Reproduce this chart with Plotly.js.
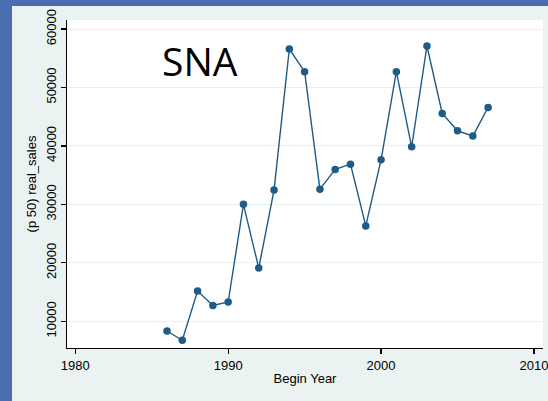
<!DOCTYPE html>
<html>
<head>
<meta charset="utf-8">
<script src="https://cdn.plot.ly/plotly-3.0.1.min.js"></script>
<style>
  html, body { margin: 0; padding: 0; background: #4a6db0; width: 548px; height: 401px; overflow: hidden; }
  #chart { position: absolute; left: 12px; top: 6px; width: 536px; height: 395px; }
</style>
</head>
<body>
<div id="chart"></div>
<script>
const years = [1986, 1987, 1988, 1989, 1990, 1991, 1992, 1993, 1994, 1995, 1996, 1997, 1998, 1999, 2000, 2001, 2002, 2003, 2004, 2005, 2006, 2007];
const realSales = [8340, 6750, 15190, 12700, 13300, 30000, 19100, 32450, 56580, 52690, 32600, 35980, 36880, 26320, 37620, 52690, 39850, 57090, 45560, 42590, 41680, 46580];
const xTicks = [1980, 1990, 2000, 2010];
const yTicks = [10000, 20000, 30000, 40000, 50000, 60000];
const labelText = 'SNA';

const trace = {
  x: years,
  y: realSales,
  type: 'scatter',
  mode: 'lines+markers',
  line: { color: '#1f5b87', width: 1.4 },
  marker: { color: '#1f5b87', size: 7.5 },
  hoverinfo: 'skip'
};

const layout = {
  width: 536,
  height: 395,
  margin: { l: 55, r: 5, t: 14, b: 53 },
  paper_bgcolor: '#eaf3f1',
  plot_bgcolor: '#ffffff',
  font: { family: 'Liberation Sans, Arial, sans-serif', size: 13, color: '#000000' },
  showlegend: false,
  xaxis: {
    range: [1979.46, 2010.59],
    tickvals: xTicks,
    ticktext: xTicks.map(String),
    ticklabeloverflow: 'allow',
    showgrid: false,
    zeroline: false,
    showline: true,
    linecolor: '#000000',
    linewidth: 1.3,
    ticks: 'outside',
    ticklen: 5,
    tickwidth: 1.2,
    tickcolor: '#000000',
    tickfont: { size: 13 },
    title: { text: 'Begin Year', font: { size: 13 }, standoff: 2 }
  },
  yaxis: {
    range: [5430, 61540],
    tickvals: yTicks,
    ticktext: yTicks.map(String),
    tickangle: -90,
    showgrid: true,
    gridcolor: '#e6f0ee',
    gridwidth: 1,
    zeroline: false,
    showline: true,
    linecolor: '#000000',
    linewidth: 1.3,
    ticks: 'outside',
    ticklen: 5,
    tickwidth: 1.2,
    tickcolor: '#000000',
    tickfont: { size: 13 },
    title: { text: '(p 50) real_sales', font: { size: 13 }, standoff: 4 }
  },
  annotations: [{
    text: labelText,
    xref: 'paper', yref: 'paper',
    x: 0.28, y: 0.878,
    xanchor: 'center', yanchor: 'middle',
    showarrow: false,
    font: { family: 'Open Sans, sans-serif', size: 39, color: '#000000' }
  }]
};

Plotly.newPlot('chart', [trace], layout, { displayModeBar: false, staticPlot: true });
</script>
</body>
</html>
